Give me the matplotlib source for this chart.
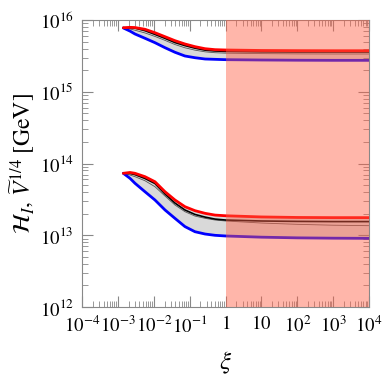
import numpy as np
import matplotlib
matplotlib.use("Agg")
import matplotlib.pyplot as plt
from matplotlib.ticker import LogLocator, FixedLocator, FixedFormatter, NullFormatter

plt.rcParams['font.family'] = ['Liberation Serif', 'DejaVu Serif']
plt.rcParams['mathtext.fontset'] = 'stix'

# xi grid
xi = [1.42e-3, 2.18e-3, 3.0e-3, 5.7e-3, 1.08e-2, 2.06e-2, 3.9e-2, 7.4e-2,
      0.141, 0.27, 0.51, 1.0, 10, 100, 1000, 1e4]

# upper band (V^{1/4})
up_red   = [7.8e15, 7.9e15, 7.85e15, 7.42e15, 6.65e15, 5.85e15, 5.15e15, 4.63e15,
            4.25e15, 3.98e15, 3.86e15, 3.82e15, 3.76e15, 3.74e15, 3.73e15, 3.73e15]
up_blue  = [7.74e15, 7.0e15, 6.38e15, 5.56e15, 4.83e15, 4.11e15, 3.55e15, 3.15e15,
            2.98e15, 2.86e15, 2.83e15, 2.80e15, 2.77e15, 2.75e15, 2.74e15, 2.74e15]
up_black = [7.8e15, 7.8e15, 7.7e15, 7.1e15, 6.3e15, 5.55e15, 4.85e15, 4.4e15,
            4.05e15, 3.8e15, 3.7e15, 3.65e15, 3.6e15, 3.58e15, 3.58e15, 3.58e15]
up_gray  = [7.8e15, 7.5e15, 7.2e15, 6.6e15, 5.9e15, 5.2e15, 4.55e15, 4.1e15,
            3.8e15, 3.6e15, 3.5e15, 3.45e15, 3.4e15, 3.37e15, 3.36e15, 3.36e15]

# lower band (H_I)
lo_red   = [7.3e13, 7.5e13, 7.3e13, 6.55e13, 5.57e13, 4.04e13, 3.10e13, 2.50e13,
            2.20e13, 2.02e13, 1.91e13, 1.87e13, 1.80e13, 1.77e13, 1.76e13, 1.76e13]
lo_blue  = [7.3e13, 6.21e13, 5.30e13, 4.04e13, 3.10e13, 2.25e13, 1.72e13, 1.32e13,
            1.12e13, 1.04e13, 9.98e12, 9.77e12, 9.4e12, 9.2e12, 9.1e12, 9.05e12]
lo_black = [7.3e13, 7.26e13, 7.0e13, 6.18e13, 5.26e13, 3.76e13, 2.81e13, 2.25e13,
            1.95e13, 1.79e13, 1.68e13, 1.63e13, 1.58e13, 1.56e13, 1.55e13, 1.55e13]
lo_gray  = [7.3e13, 6.9e13, 6.55e13, 5.75e13, 4.75e13, 3.52e13, 2.64e13, 2.13e13,
            1.85e13, 1.72e13, 1.63e13, 1.58e13, 1.48e13, 1.42e13, 1.38e13, 1.36e13]

shade_range = [1.0, 1e4]

xticks = [1e-4, 1e-3, 1e-2, 1e-1, 1, 10, 1e2, 1e3, 1e4]
xticklabels = [r'$10^{-4}$', r'$10^{-3}$', r'$10^{-2}$', r'$10^{-1}$', r'$1$',
               r'$10$', r'$10^{2}$', r'$10^{3}$', r'$10^{4}$']
yticks = [1e12, 1e13, 1e14, 1e15, 1e16]
yticklabels = [r'$10^{12}$', r'$10^{13}$', r'$10^{14}$', r'$10^{15}$', r'$10^{16}$']

fig = plt.figure(figsize=(3.82, 3.79), dpi=100)
ax = fig.add_axes([82/382, 1-307/379, 287/382, 287/379])

for red, blue, black, gray in [(up_red, up_blue, up_black, up_gray),
                               (lo_red, lo_blue, lo_black, lo_gray)]:
    ax.fill_between(xi, blue, red, color='#d9d9d9', lw=0, zorder=1)
    ax.plot(xi, gray, color='#555555', lw=0.6, zorder=2)
    ax.plot(xi, black, color='black', lw=1.2, zorder=3)
    ax.plot(xi, blue, color='#0000ff', lw=2.0, zorder=4, solid_capstyle='round',
            solid_joinstyle='round')
    ax.plot(xi, red, color='#ff0000', lw=2.0, zorder=5, solid_capstyle='round',
            solid_joinstyle='round')

ax.axvspan(shade_range[0], shade_range[1], color='#ff5d43', alpha=0.45, lw=0, zorder=6)

ax.set_xscale('log')
ax.set_yscale('log')
ax.set_xlim(1e-4, 1e4)
ax.set_ylim(1e12, 1e16)

ax.xaxis.set_major_locator(FixedLocator(xticks))
ax.xaxis.set_major_formatter(FixedFormatter(xticklabels))
ax.xaxis.set_minor_locator(LogLocator(base=10, subs=np.arange(2, 10), numticks=20))
ax.xaxis.set_minor_formatter(NullFormatter())
ax.yaxis.set_major_locator(FixedLocator(yticks))
ax.yaxis.set_major_formatter(FixedFormatter(yticklabels))
ax.yaxis.set_minor_locator(LogLocator(base=10, subs=np.arange(2, 10), numticks=20))
ax.yaxis.set_minor_formatter(NullFormatter())

for s in ax.spines.values():
    s.set_color('#888888')
    s.set_linewidth(0.8)
ax.tick_params(which='both', direction='in', top=True, right=True, color='#888888')
ax.tick_params(which='major', length=8, width=0.8, labelsize=13.5, pad=6)
ax.tick_params(which='minor', length=4, width=0.6)

ax.set_xlabel(r'$\xi$', fontsize=18, labelpad=10)
ax.set_ylabel(r'$\mathcal{H}_I,\,\widetilde{V}^{1/4}\;[\mathrm{GeV}]$', fontsize=17, labelpad=2)

fig.savefig('out.png', dpi=100)
